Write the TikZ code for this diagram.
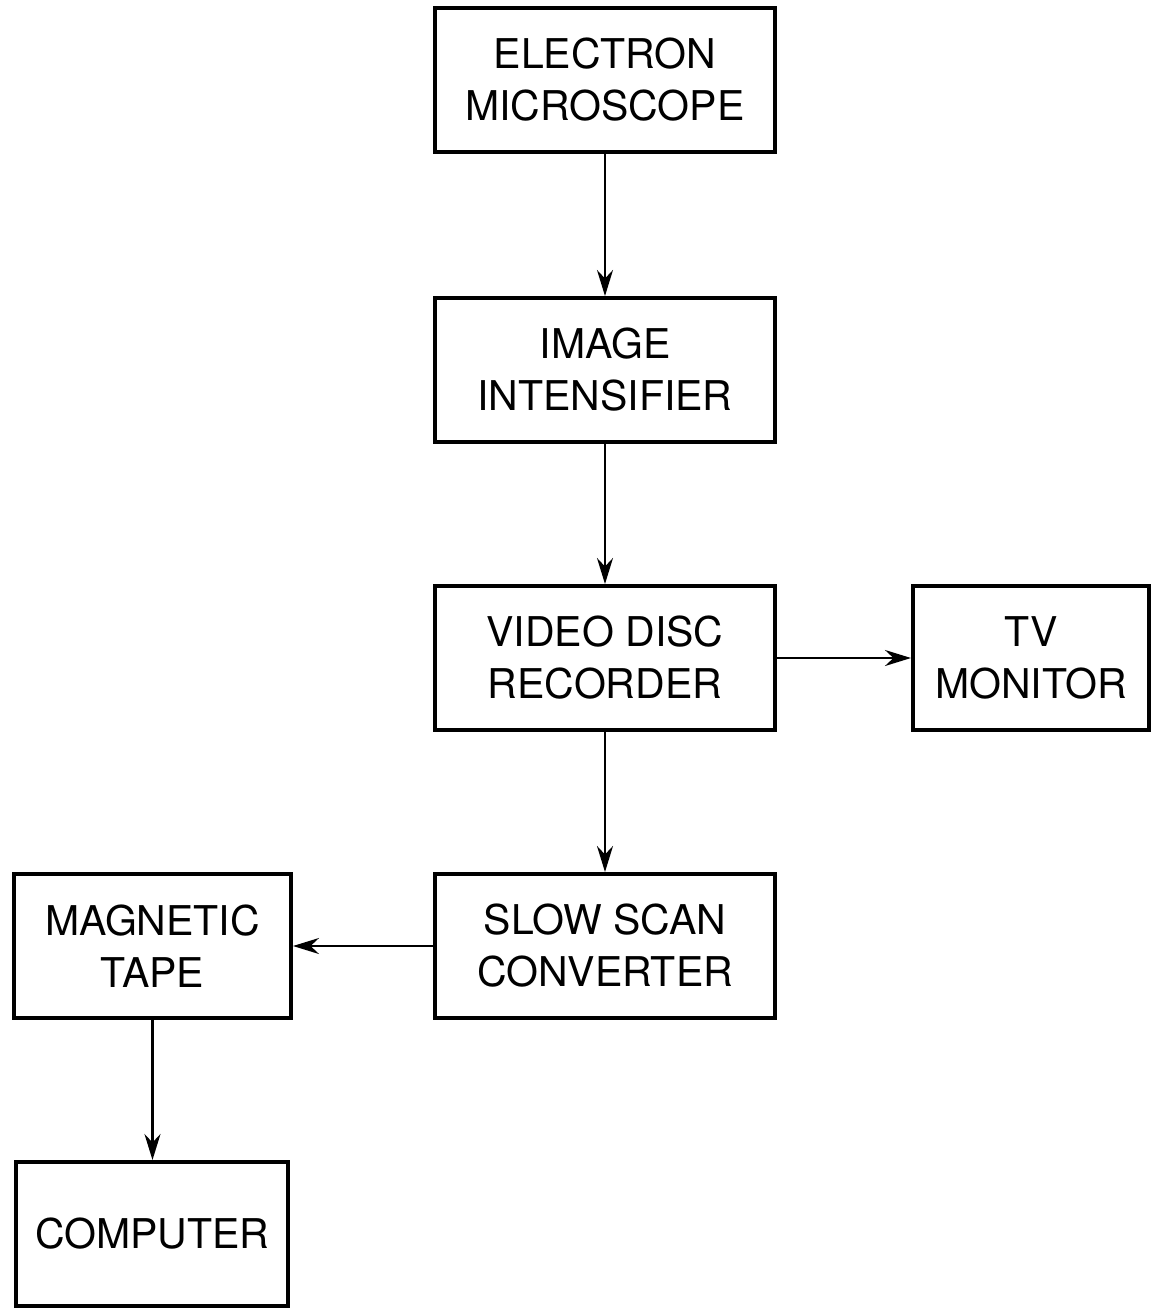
\documentclass[tikz,border=0pt]{standalone}
\usepackage{fontspec}
\setmainfont{TeX Gyre Heros}
\usepackage{tikz}
\usetikzlibrary{positioning, arrows.meta}
\tikzstyle{block}=[rectangle, draw=black, line width=2pt, minimum width=170pt, minimum height=72pt, align=center, font=\fontsize{20.5}{26}\selectfont]
\tikzstyle{flow}=[-{Stealth[length=13pt, width=8pt]}, line width=1.1pt]

\begin{document}
\begin{tikzpicture}[node distance=70pt]
            %Image chain from the microscope down to tape and computer
            \useasboundingbox (-302.5pt,40pt) rectangle (274.5pt,-616pt);
            \node[block](em) at (0,0){ELECTRON\\MICROSCOPE};
            \node[block, below =71pt of em](ii){IMAGE\\INTENSIFIER};
            \node[block, below = of ii](vdr){VIDEO DISC\\RECORDER};
            \node[block, right =67pt of vdr, minimum width=118pt](tv){TV\\MONITOR};
            \node[block, below = of vdr](ssc){SLOW SCAN\\CONVERTER};
            \node[block, left = of ssc, minimum width=138.5pt](mt){MAGNETIC\\TAPE};
            \node[block, below = of mt, minimum width=136pt](cp){COMPUTER};
            \draw[flow] (em) to (ii);
            \draw[flow] (ii) to (vdr);
            \draw[flow] (vdr) to (tv);
            \draw[flow] (vdr) to (ssc);
            \draw[flow] (ssc) to (mt);
            \draw[flow] (mt) to (cp);
        \end{tikzpicture}
\end{document}
